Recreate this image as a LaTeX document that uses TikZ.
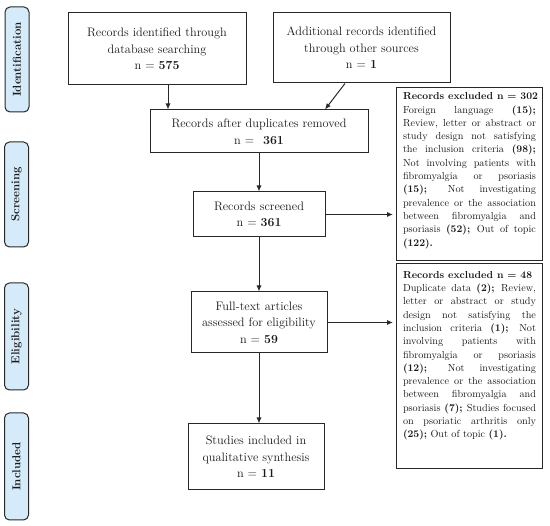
\documentclass[tikz,border=0pt]{standalone}
\usetikzlibrary{arrows.meta,calc}
\definecolor{lblue}{RGB}{214,235,250}
\definecolor{edge}{RGB}{40,40,40}
\definecolor{ink}{RGB}{25,25,25}
\begin{document}
\begin{tikzpicture}[x=1pt,y=-1pt,
  box/.style={draw=edge,line width=1pt,align=center,inner sep=0pt,text=ink,
    font=\fontsize{12.3}{16.5}\selectfont},
  phase/.style={draw=edge,fill=lblue,line width=1pt,rounded corners=5pt,
    rotate=90,minimum height=24pt,minimum width=#1,inner sep=0pt,text=ink,
    font=\fontsize{11.5}{13}\selectfont\bfseries},
  frame/.style={draw=edge,line width=1pt,inner sep=0pt,minimum width=146pt},
  extext/.style={text width=133pt,align=justify,inner sep=0pt,text=ink,
    font=\fontsize{10.2}{13.3}\selectfont},
  arr/.style={-{Latex[length=6pt,width=5pt]},line width=1pt,draw=edge}
]
\useasboundingbox (0,0) rectangle (550,526);

% phase labels
\node[phase=105pt] (pid) at (17,59.5) {Identification};
\node[phase=105pt] (psc) at (16.5,194.5) {Screening};
\node[phase=107pt] (pel) at (16.5,336.5) {Eligibility};
\node[phase=107pt] (pin) at (16.5,466.5) {Included};

% main boxes
\node[box,minimum width=178pt,minimum height=72pt] (b1) at (157,49)
  {Records identified through\\database searching\\n = \textbf{575}};
\node[box,minimum width=177pt,minimum height=70pt] (b2) at (361.5,48)
  {Additional records identified\\through other sources\\n = \textbf{1}};
\node[box,minimum width=218pt,minimum height=43pt] (b3) at (259,131.5)
  {Records after duplicates removed\\n =\hspace{9pt}\textbf{361}};
\node[box,minimum width=132pt,minimum height=45pt] (b4) at (259,214.5)
  {Records screened\\n = \textbf{361}};
\node[box,minimum width=136pt,minimum height=61pt] (b5) at (259,322.5)
  {Full-text articles\\assessed for eligibility\\n = \textbf{59}};
\node[box,minimum width=136pt,minimum height=66pt] (b6) at (256,457)
  {Studies included in\\qualitative synthesis\\n = \textbf{11}};

% exclusion boxes
\node[frame,anchor=north west,minimum height=173pt] (e1) at (396,87) {};
\node[extext,anchor=north] (e1t) at ($(e1.north)+(0,5.5)$) {\tolerance=10000\hbadness=10000
\noindent\makebox[\linewidth][l]{\textbf{Records excluded n = 302}}\linebreak
Foreign language \textbf{(15);}\linebreak
Review, letter or abstract or\linebreak
study design not satisfying\linebreak
the inclusion criteria \textbf{(98);}\linebreak
Not involving patients with\linebreak
fibromyalgia or psoriasis\linebreak
\textbf{(15);} Not investigating\linebreak
prevalence or the association\linebreak
between fibromyalgia and\linebreak
psoriasis \textbf{(52);} Out of topic\linebreak
\textbf{(122).}};

\node[frame,anchor=north west,minimum height=205pt] (e2) at (396,263) {};
\node[extext,anchor=north] (e2t) at ($(e2.north)+(0,8)$) {\tolerance=10000\hbadness=10000
\noindent\makebox[\linewidth][l]{\textbf{Records excluded n = 48}}\linebreak
Duplicate data \textbf{(2);} Review,\linebreak
letter or abstract or study\linebreak
design not satisfying the\linebreak
inclusion criteria \textbf{(1);} Not\linebreak
involving patients with\linebreak
fibromyalgia or psoriasis\linebreak
\textbf{(12);} Not investigating\linebreak
prevalence or the association\linebreak
between fibromyalgia and\linebreak
psoriasis \textbf{(7);} Studies focused\linebreak
on psoriatic arthritis only\linebreak
\textbf{(25);} Out of topic \textbf{(1).}};

% helper coordinates for arrow x positions
\coordinate (a1) at (168,0);
\coordinate (a2s) at (345,0);
\coordinate (a2e) at (325,0);

% connectors
\draw[arr] (b1.south -| a1) -- (b3.north -| a1);
\draw[arr] (b2.south -| a2s) -- (b3.north -| a2e);
\draw[arr] (b3.south) -- (b4.north);
\draw[arr] (b4.south) -- (b5.north);
\draw[arr] (b5.south) -- (b5.south |- b6.north);
\draw[arr,shorten >=3pt] (b4.east) -- (b4.east -| e1.west);
\draw[arr,shorten >=3pt] (b5.east) -- (b5.east -| e2.west);
\end{tikzpicture}
\end{document}
